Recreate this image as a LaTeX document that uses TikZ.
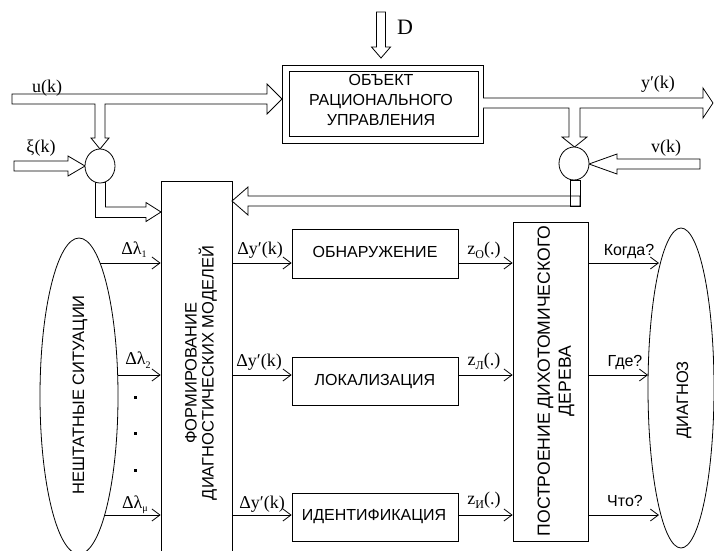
\documentclass[tikz,border=0pt]{standalone}
\usepackage{fontspec}
\setmainfont{Liberation Serif}
\newfontfamily\sansfam{Liberation Sans}
\usetikzlibrary{shapes.geometric,arrows.meta}
\newcommand\sbs[1]{\raisebox{-0.4ex}{\fontsize{10}{10}\selectfont #1}}
\newcommand\zsb[1]{\raisebox{-0.45ex}{\fontsize{12}{12}\selectfont #1}}
\tikzset{
  ln/.style={line width=0.8pt},
  arr/.style={ln,-{Straight Barb[length=8pt,width=12pt,line width=0.8pt]}},
  fat/.style={ln,fill=white,line join=miter},
  boxn/.style={draw,ln,inner sep=0pt},
  sans/.style={font=\sansfam\fontsize{16}{20}\selectfont,inner sep=0pt},
  rsans/.style={font=\sansfam\fontsize{16.5}{17}\selectfont,inner sep=0pt,rotate=90,align=center},
  ser/.style={font=\fontsize{18}{20}\selectfont,inner sep=0pt},
}
\begin{document}
\begin{tikzpicture}[x=1pt,y=-1pt]
\useasboundingbox (0,0) rectangle (714,550);
% row reference coordinates
\coordinate (r1) at (0,263);
\coordinate (r2) at (0,375);
\coordinate (r3) at (0,515);
% ---------- object ----------
\node (obj) [boxn,minimum width=201pt,minimum height=78pt] at (382.5,104) {};
\draw[ln] (289,71) rectangle (478,136);
\node[sans,align=center] at (381,100) {ОБЪЕКТ\\РАЦИОНАЛЬНОГО\\УПРАВЛЕНИЯ};
% ---------- fat arrows ----------
% D
\draw[fat] (376.5,12) -- (376.5,47) -- (371.5,47) -- (381,58) -- (390.5,47) -- (385.5,47) -- (385.5,12) -- cycle;
\node[ser,font=\fontsize{22}{22}\selectfont] at (405,27) {D};
% u(k) with branch down
\draw[fat] (12,94) -- (267,94) -- (267,84) -- (282,99) -- (267,114) -- (267,104)
  -- (105,104) -- (105,138) -- (109,138) -- (100,149) -- (91,138) -- (95,138) -- (95,104) -- (12,104) -- cycle;
% xi(k)
\draw[fat] (14,161) -- (68,161) -- (68,156) -- (85,166) -- (68,176) -- (68,171) -- (14,171) -- cycle;
% left L to formation box
\draw[fat] (95.5,182) rectangle (105,217.5);
\draw[fat] (105,207) -- (146,207) -- (146,202.5) -- (161,212) -- (146,221.5) -- (146,217.5) -- (105,217.5);
% y'(k) with branch down
\draw[fat] (483,98) -- (703,98) -- (703,88) -- (713,103) -- (703,118) -- (703,108)
  -- (580,108) -- (580,137) -- (587,137) -- (574.5,147) -- (562,137) -- (569,137) -- (569,108) -- (483,108);
% v(k)
\draw[fat] (700,159) -- (617,159) -- (617,154) -- (589,164) -- (617,174) -- (617,169) -- (700,169) -- cycle;
% feedback
\draw[fat] (580,196) -- (248,196) -- (248,187) -- (232,201) -- (248,215) -- (248,206) -- (580,206) -- cycle;
\draw[ln] (570,180) rectangle (580,206);
% circles
\node (c1) [draw,ln,fill=white,ellipse,minimum width=30pt,minimum height=34pt,inner sep=0pt] at (100,166) {};
\node (c2) [draw,ln,fill=white,ellipse,minimum width=30pt,minimum height=33pt,inner sep=0pt] at (574,163.5) {};
% labels of signals
\node[ser] at (47,88) {u(k)};
\node[ser] at (41,148) {ξ(k)};
\node[ser] at (658,84) {y′(k)};
\node[ser] at (666,148) {v(k)};
% ---------- lower part ----------
\node (nesh) [draw,ln,ellipse,minimum width=78pt,minimum height=316pt,inner sep=0pt] at (79,396) {};
\node[rsans] at (80,395) {НЕШТАТНЫЕ СИТУАЦИИ};
\node (form) [boxn,minimum width=71pt,minimum height=380pt] at (196.5,371) {};
\node[rsans] at (201,373) {ФОРМИРОВАНИЕ\\ДИАГНОСТИЧЕСКИХ МОДЕЛЕЙ};
\node (obn) [boxn,minimum width=166pt,minimum height=49pt] at (375,253.5) {};
\node[sans] at (375,252) {ОБНАРУЖЕНИЕ};
\node (lok) [boxn,minimum width=166pt,minimum height=48pt] at (375,381) {};
\node[sans] at (375,381) {ЛОКАЛИЗАЦИЯ};
\node (idn) [boxn,minimum width=166pt,minimum height=48pt] at (375,517) {};
\node[sans] at (374,517) {ИДЕНТИФИКАЦИЯ};
\node (tree) [boxn,minimum width=75pt,minimum height=319pt] at (550.5,381.5) {};
\node[rsans,font=\sansfam\fontsize{17.6}{21}\selectfont] at (556,381) {ПОСТРОЕНИЕ ДИХОТОМИЧЕСКОГО\\ДЕРЕВА};
\node (diag) [draw,ln,ellipse,minimum width=66pt,minimum height=320pt,inner sep=0pt] at (681,388) {};
\node[rsans] at (684,400) {ДИАГНОЗ};
% start/end points on ellipses
\coordinate (l1) at (100,263);
\coordinate (l2) at (117.5,375);
\coordinate (l3) at (105,515);
\coordinate (d1) at (659,263);
\coordinate (d2) at (648,375);
\coordinate (d3) at (659,515);
% thin arrows
\draw[arr] (l1) -- (l1 -| form.west);
\draw[arr] (l2) -- (l2 -| form.west);
\draw[arr] (l3) -- (l3 -| form.west);
\draw[arr] (form.east |- r1) -- (obn.west |- r1);
\draw[arr] (form.east |- r2) -- (lok.west |- r2);
\draw[arr] (form.east |- r3) -- (idn.west |- r3);
\draw[arr] (obn.east |- r1) -- (tree.west |- r1);
\draw[arr] (lok.east |- r2) -- (tree.west |- r2);
\draw[arr] (idn.east |- r3) -- (tree.west |- r3);
\draw[arr] (tree.east |- r1) -- (d1);
\draw[arr] (tree.east |- r2) -- (d2);
\draw[arr] (tree.east |- r3) -- (d3);
% dots
\fill (133.5,395.5) rectangle (136.5,398.5);
\fill (133.5,431.5) rectangle (136.5,434.5);
\fill (133.5,468.5) rectangle (136.5,471.5);
% labels
\node[ser] at (134,250) {Δλ\sbs{1}};
\node[ser] at (138,360) {Δλ\sbs{2}};
\node[ser] at (135,505) {Δλ\sbs{μ}};
\node[ser] at (260,250) {Δy′(k)};
\node[ser] at (259,362) {Δy′(k)};
\node[ser] at (262,504) {Δy′(k)};
\node[ser] at (484,250) {z\zsb{О}(.)};
\node[ser] at (484,361) {z\zsb{Л}(.)};
\node[ser] at (484,500) {z\zsb{И}(.)};
\node[sans] at (629,251) {Когда?};
\node[sans] at (625,362) {Где?};
\node[sans] at (625,501) {Что?};
\end{tikzpicture}
\end{document}
